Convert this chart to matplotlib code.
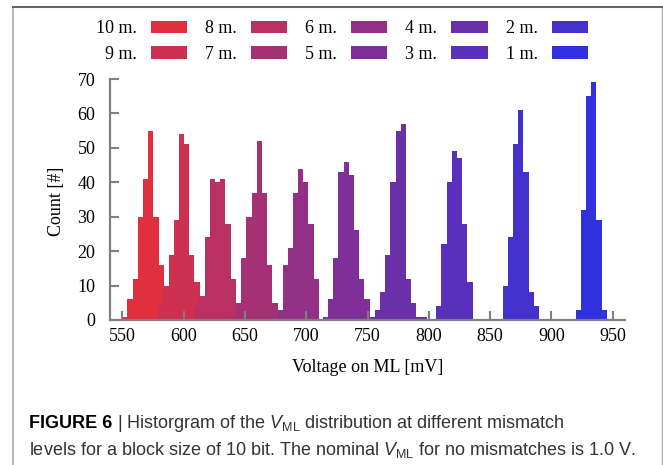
import numpy as np
import matplotlib
matplotlib.use("Agg")
import matplotlib.pyplot as plt
from matplotlib.lines import Line2D

plt.rcParams["font.family"] = "Liberation Serif"
plt.rcParams["mathtext.fontset"] = "custom"
plt.rcParams["mathtext.rm"] = "Liberation Sans"
plt.rcParams["mathtext.it"] = "Liberation Sans:italic"

# Data
labels = ["10 m.", "9 m.", "8 m.", "7 m.", "6 m.", "5 m.", "4 m.", "3 m.", "2 m.", "1 m."]
bin_width = 4.23  # mV
bin_start = [550.0, 579.3, 608.7, 638.6, 676.5, 713.6, 756.0, 806.1, 860.3, 919.8]  # mV

counts_10 = [1, 6, 12, 30, 41, 55, 30, 16]
counts_9 = [4, 10, 19, 29, 54, 51, 19, 11]
counts_8 = [4, 7, 24, 41, 40, 41, 28, 12, 5]
counts_7 = [1, 5, 18, 30, 37, 52, 37, 16, 5]
counts_6 = [3, 16, 21, 37, 44, 40, 28, 12]
counts_5 = [1, 6, 18, 43, 46, 42, 26, 12, 6, 1]
counts_4 = [3, 8, 19, 40, 55, 57, 12, 5, 1, 1]
counts_3 = [4, 22, 40, 49, 47, 28, 11]
counts_2 = [10, 24, 51, 61, 43, 8, 4]
counts_1 = [3, 32, 65, 69, 29, 3]
all_counts = [counts_10, counts_9, counts_8, counts_7, counts_6,
              counts_5, counts_4, counts_3, counts_2, counts_1]

x_ticks = [550, 600, 650, 700, 750, 800, 850, 900, 950]
y_ticks = [0, 10, 20, 30, 40, 50, 60, 70]

# red -> blue
c_red = np.array([0.88, 0.19, 0.25])
c_blue = np.array([0.19, 0.19, 0.87])
colors = [c_red + (c_blue - c_red) * i / 9 for i in range(10)]

W, H = 663, 465
fig = plt.figure(figsize=(W / 100, H / 100), dpi=100)
ax = fig.add_axes([110 / W, 145 / H, 515 / W, 241 / H])

for start, cnt, col, lab in zip(bin_start, all_counts, colors, labels):
    edges = start + bin_width * np.arange(len(cnt) + 1)
    ax.stairs(cnt, edges, fill=True, color=col, label=lab, linewidth=0)

ax.set_xlim(540, 960)
ax.set_ylim(0, 70)
ax.set_xticks(x_ticks)
ax.set_yticks(y_ticks)
for s in ["top", "right"]:
    ax.spines[s].set_visible(False)
for s in ["left", "bottom"]:
    ax.spines[s].set_color("#808080")
    ax.spines[s].set_linewidth(1.6)
ax.tick_params(direction="in", length=6.5, width=1.5, color="#808080",
               labelsize=13, labelcolor="black")
ax.tick_params(axis="x", pad=6)
ax.tick_params(axis="y", pad=10.5)

fig.text(57 / W, 1 - 201 / H, "Count [#]", rotation=90, ha="center", va="center", fontsize=13)
fig.text(367.5 / W, 1 - 367 / H, "Voltage on ML [mV]", ha="center", va="center", fontsize=13)

ax.legend(loc="center", bbox_to_anchor=(342 / W, 1 - 41.5 / H), bbox_transform=fig.transFigure,
          ncol=5, markerfirst=False, frameon=False, fontsize=13, borderpad=0,
          handlelength=2.0, handleheight=0.7, handletextpad=0.78,
          columnspacing=1.0, labelspacing=0.48)

# caption
cap_kw = dict(family="Liberation Sans", fontsize=13, va="baseline")
t1 = fig.text(29 / W, 1 - 428 / H, "FIGURE 6", weight="bold", color="black", **cap_kw)
fig.canvas.draw()
bb = t1.get_window_extent()
fig.text(bb.x1 / W, 1 - 428 / H,
         r" | Historgram of the $V_{\mathrm{ML}}$ distribution at different mismatch",
         color="#333333", **cap_kw)
fig.text(29 / W, 1 - 455 / H,
         r"levels for a block size of 10 bit. The nominal $V_{\mathrm{ML}}$ for no mismatches is 1.0 V.",
         color="#333333", **cap_kw)

# frame around figure
fig.add_artist(Line2D([13 / W, 13 / W], [0, 1 - 7 / H], transform=fig.transFigure,
                      color="#aaaaaa", lw=1.2))
fig.add_artist(Line2D([661.5 / W, 661.5 / W], [0, 1 - 7 / H], transform=fig.transFigure,
                      color="#aaaaaa", lw=1.0))
fig.add_artist(Line2D([13 / W, 1], [1 - 7 / H, 1 - 7 / H], transform=fig.transFigure,
                      color="#666666", lw=1.5))

fig.savefig("out.png", dpi=100)
